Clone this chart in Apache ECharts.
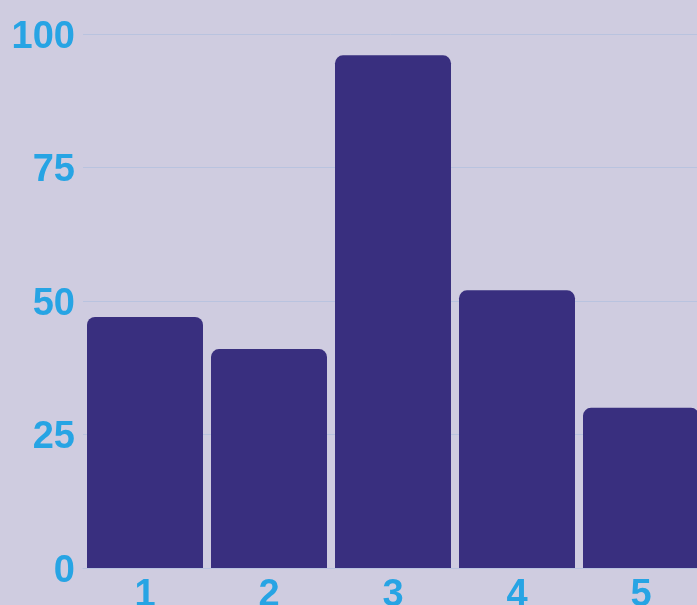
<!DOCTYPE html>
<html>
<head>
<meta charset="utf-8">
<script src="https://cdn.jsdelivr.net/npm/echarts@6/dist/echarts.min.js"></script>
<style>
  html, body { margin: 0; padding: 0; background: #cfcce0; }
  #main { width: 697px; height: 605px; }
</style>
</head>
<body>
<div id="main"></div>
<script>
var categories = ['1', '2', '3', '4', '5'];
var values = [47, 41, 96, 52, 30];
var yTicks = [0, 25, 50, 75, 100];

var labelFont = {
  color: '#27a4e4',
  fontSize: 38,
  fontWeight: 'bold',
  fontFamily: 'Liberation Sans'
};

var myChart = echarts.init(document.getElementById('main'));
var option = {
  backgroundColor: '#cfcce0',
  animation: false,
  grid: { left: 83, right: -6, top: 34, bottom: 37, outerBoundsMode: 'none', containLabel: false },
  xAxis: {
    type: 'category',
    data: categories,
    axisLine: { show: true, lineStyle: { color: '#b9c3df', width: 1 } },
    axisTick: { show: false },
    axisLabel: Object.assign({ margin: 9 }, labelFont)
  },
  yAxis: {
    type: 'value',
    min: yTicks[0],
    max: yTicks[yTicks.length - 1],
    interval: 25,
    axisLine: { show: false },
    axisTick: { show: false },
    splitLine: { lineStyle: { color: '#b9c3df', width: 1 } },
    axisLabel: {
      margin: 8,
      formatter: function (v) { return '{a|' + v + '}'; },
      rich: { a: Object.assign({ padding: [7, 0, 0, 0] }, labelFont) }
    }
  },
  series: [{
    type: 'bar',
    data: values,
    barWidth: 116,
    itemStyle: { color: '#392f7f', borderRadius: [8, 8, 0, 0] }
  }]
};
myChart.setOption(option);
</script>
</body>
</html>
